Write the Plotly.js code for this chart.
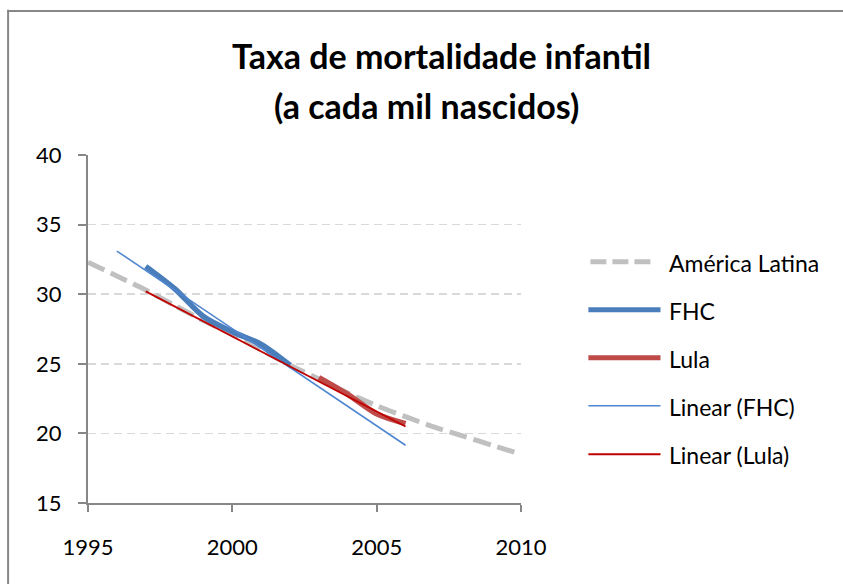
<!DOCTYPE html>
<html>
<head>
<meta charset="utf-8">
<script src="https://cdn.plot.ly/plotly-3.0.1.min.js"></script>
<style>
  html, body { margin: 0; padding: 0; background: #fff; overflow: hidden; }
  #chart { width: 843px; height: 584px; }
</style>
</head>
<body>
<div id="chart"></div>
<script>
// ---- data ----
const latamYears = [1995,1996,1997,1998,1999,2000,2001,2002,2003,2004,2005,2006,2007,2008,2009,2010];
const latamValues = [32.3,31.3,30.3,29.2,28.1,27.1,26.0,24.9,23.9,22.9,22.0,21.2,20.45,19.8,19.15,18.5];

const fhcYears = [1997,1998,1999,2000,2001,2002];
const fhcValues = [32.0,30.4,28.4,27.3,26.4,24.9];

const lulaYears = [2003,2004,2005,2006];
const lulaValues = [24.0,22.8,21.4,20.7];

const trendFhcYears = [1996,2006];
const trendFhcValues = [33.1,19.15];

const trendLulaYears = [1997,2006];
const trendLulaValues = [30.2,20.5];

const seriesNames = ['América Latina','FHC','Lula','Linear (FHC)','Linear (Lula)'];
const xTickVals = [1995,2000,2005,2010];
const yTickVals = [15,20,25,30,35,40];

// ---- styling ----
const colors = ['#c0c0c0','#4a7ebb','#be4b48','#4f86d0','#c00000'];
const widths = [5,5.5,5.5,1.6,1.8];
const dashes = ['18px,7px','solid','solid','solid','solid'];
const FONT = 'Lato, "Open Sans", sans-serif';

// plot area in pixels
const L = 88.3, R = 520.7, T = 155, B = 502.7;
const W = 843, H = 584;
const px = v => (v - L) / (R - L);
const py = v => (B - v) / (B - T);

const traces = [
  {x: latamYears, y: latamValues},
  {x: fhcYears, y: fhcValues},
  {x: lulaYears, y: lulaValues},
  {x: trendFhcYears, y: trendFhcValues},
  {x: trendLulaYears, y: trendLulaValues}
].map((d, i) => ({
  type: 'scatter', mode: 'lines', name: seriesNames[i],
  x: d.x, y: d.y,
  line: {color: colors[i], width: widths[i], dash: dashes[i], shape: (i < 3 ? 'spline' : 'linear'), smoothing: 0.8},
  hoverinfo: 'x+y+name', showlegend: false
}));

const shapes = [];
const annotations = [];

// chart-area frame (top and left edges visible in the original)
shapes.push({type: 'line', xref: 'paper', yref: 'paper', layer: 'above',
  x0: px(7.5), x1: px(W + 5), y0: py(11), y1: py(11), line: {color: '#878787', width: 2}});
shapes.push({type: 'line', xref: 'paper', yref: 'paper', layer: 'above',
  x0: px(8.5), x1: px(8.5), y0: py(10), y1: py(H + 5), line: {color: '#878787', width: 2}});

// custom legend (long line samples like the original)
const legendRows = [261.7, 309.5, 357.5, 405.5, 454];
seriesNames.forEach((name, i) => {
  shapes.push({
    type: 'line', xref: 'paper', yref: 'paper',
    x0: px(i === 0 ? 590 : 588), x1: px(i === 0 ? 653 : 660),
    y0: py(legendRows[i]), y1: py(legendRows[i]),
    line: {color: colors[i], width: (i < 3 ? 5 : widths[i]), dash: (i === 0 ? '16px,6px' : 'solid')}
  });
  annotations.push({
    xref: 'paper', yref: 'paper', x: px(666), y: py(legendRows[i] + 1),
    xanchor: 'left', yanchor: 'middle', showarrow: false, text: name,
    font: {family: FONT, size: 23, color: '#000'}
  });
});
annotations.push({
  xref: 'paper', yref: 'paper', x: px(426.5), y: py(106),
  xanchor: 'center', yanchor: 'middle', showarrow: false,
  text: '<b>(a cada mil nascidos)</b>',
  font: {family: FONT, size: 34, color: '#000'}
});

const layout = {
  width: W, height: H,
  margin: {l: L, r: W - R, t: T, b: H - B, pad: 0},
  paper_bgcolor: '#fff', plot_bgcolor: '#fff',
  title: {
    text: '<b>Taxa de mortalidade infantil</b>',
    x: 441.5 / W, xanchor: 'center', xref: 'container',
    y: 1 - 57 / H, yanchor: 'middle', yref: 'container',
    font: {family: FONT, size: 34, color: '#000'}
  },
  xaxis: {
    range: [1995, 2010], tickvals: xTickVals, ticktext: xTickVals.map(String),
    showgrid: false, zeroline: false,
    showline: true, linecolor: '#878787', linewidth: 2,
    ticks: 'outside', ticklen: 7, tickwidth: 2, tickcolor: '#878787',
    ticklabelstandoff: 17,
    tickfont: {family: FONT, size: 22, color: '#000'}
  },
  yaxis: {
    range: [15, 40], tickvals: yTickVals, ticktext: yTickVals.map(String),
    showgrid: true, gridcolor: '#d9d9d9', gridwidth: 1.5, griddash: '8px,5px',
    zeroline: false,
    showline: true, linecolor: '#878787', linewidth: 2,
    ticks: 'outside', ticklen: 8, tickwidth: 2, tickcolor: '#878787',
    ticklabelstandoff: 12,
    tickfont: {family: FONT, size: 22, color: '#000'}
  },
  shapes: shapes,
  annotations: annotations,
  showlegend: false
};

Plotly.newPlot('chart', traces, layout, {displayModeBar: false, staticPlot: true});
</script>
</body>
</html>
